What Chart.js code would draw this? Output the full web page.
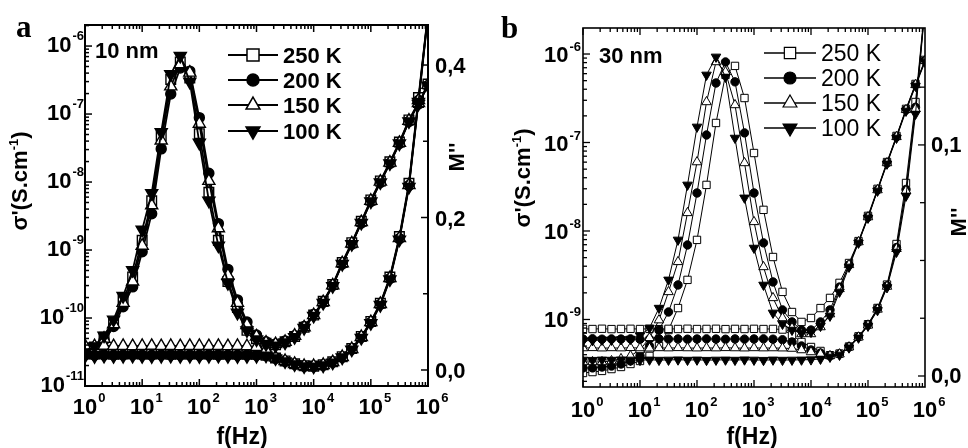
<!DOCTYPE html>
<html><head><meta charset="utf-8">
<script src="https://cdn.jsdelivr.net/npm/chart.js@4.4.0/dist/chart.umd.min.js"></script>
<style>
html,body{margin:0;padding:0;background:#fff;}
#wrap{position:relative;width:968px;height:448px;overflow:hidden;background:#fff;}
canvas{position:absolute;top:0;}
#ca{left:0;} #cb{left:484px;}
</style></head><body>
<div id="wrap"><canvas id="ca" width="484" height="448"></canvas><canvas id="cb" width="484" height="448"></canvas></div>
<script>
// ---------- data ----------
const freq = [1,1.468,2.154,3.162,4.642,6.813,10,14.68,21.54,31.62,46.42,68.13,100,146.8,215.4,316.2,464.2,681.3,1000,1468,2154,3162,4642,6813,10000,14680,21540,31620,46420,68130,100000,146800,215400,316200,464200,681300,1000000];
const temps = ['250 K','200 K','150 K','100 K'];
const xTicks = [1,10,100,1000,10000,100000,1000000];
const xTickExp = ['0','1','2','3','4','5','6'];

// panel a (10 nm): sigma' (S/cm) and M''
const aSig250 = [2.98e-11,2.95e-11,2.97e-11,2.94e-11,2.96e-11,2.98e-11,2.95e-11,2.96e-11,2.97e-11,2.94e-11,2.96e-11,2.95e-11,2.97e-11,2.96e-11,2.94e-11,2.95e-11,2.96e-11,2.93e-11,2.92e-11,2.84e-11,2.58e-11,2.34e-11,2.12e-11,1.98e-11,1.96e-11,2.05e-11,2.27e-11,2.70e-11,3.55e-11,5.35e-11,8.9e-11,1.65e-10,4.0e-10,1.58e-9,9.6e-9,1.75e-7,3.1e-6];
const aSig200 = [2.86e-11,2.84e-11,2.87e-11,2.85e-11,2.86e-11,2.88e-11,2.85e-11,2.84e-11,2.86e-11,2.87e-11,2.85e-11,2.86e-11,2.84e-11,2.86e-11,2.87e-11,2.85e-11,2.84e-11,2.85e-11,2.83e-11,2.82e-11,2.56e-11,2.31e-11,2.09e-11,1.95e-11,1.95e-11,2.02e-11,2.23e-11,2.65e-11,3.47e-11,5.2e-11,8.6e-11,1.59e-10,3.8e-10,1.47e-9,8.9e-9,1.58e-7,2.9e-6];
const aSig150 = [3.88e-11,3.86e-11,3.90e-11,3.87e-11,3.89e-11,3.86e-11,3.88e-11,3.90e-11,3.87e-11,3.88e-11,3.86e-11,3.89e-11,3.88e-11,3.87e-11,3.89e-11,3.86e-11,3.88e-11,3.84e-11,3.75e-11,3.38e-11,2.62e-11,2.33e-11,2.11e-11,1.97e-11,1.97e-11,2.04e-11,2.25e-11,2.67e-11,3.50e-11,5.26e-11,8.7e-11,1.61e-10,3.87e-10,1.50e-9,9.0e-9,1.60e-7,3.0e-6];
const aSig100 = [2.76e-11,2.74e-11,2.77e-11,2.75e-11,2.76e-11,2.78e-11,2.75e-11,2.74e-11,2.76e-11,2.77e-11,2.75e-11,2.76e-11,2.74e-11,2.76e-11,2.77e-11,2.75e-11,2.74e-11,2.75e-11,2.76e-11,2.80e-11,2.55e-11,2.30e-11,2.08e-11,1.94e-11,1.93e-11,2.00e-11,2.21e-11,2.62e-11,3.42e-11,5.1e-11,8.4e-11,1.55e-10,3.7e-10,1.42e-9,8.5e-9,1.50e-7,2.8e-6];
const aM250 = [0.022,0.030,0.043,0.062,0.092,0.122,0.170,0.222,0.307,0.381,0.404,0.383,0.310,0.233,0.170,0.116,0.082,0.052,0.041,0.035,0.033,0.037,0.044,0.056,0.072,0.090,0.112,0.141,0.167,0.195,0.223,0.248,0.273,0.299,0.328,0.351,0.375];
const aM200 = [0.020,0.027,0.039,0.057,0.083,0.109,0.155,0.205,0.290,0.362,0.396,0.392,0.331,0.258,0.192,0.132,0.092,0.063,0.046,0.037,0.034,0.038,0.045,0.057,0.073,0.089,0.111,0.139,0.165,0.193,0.221,0.246,0.271,0.297,0.326,0.349,0.373];
const aM150 = [0.021,0.029,0.041,0.060,0.088,0.116,0.163,0.216,0.301,0.372,0.401,0.390,0.323,0.248,0.186,0.124,0.088,0.059,0.044,0.036,0.034,0.037,0.045,0.056,0.072,0.089,0.111,0.140,0.166,0.194,0.222,0.247,0.272,0.298,0.327,0.350,0.374];
const aM100 = [0.023,0.031,0.045,0.066,0.097,0.131,0.184,0.232,0.312,0.388,0.412,0.378,0.298,0.222,0.163,0.114,0.075,0.052,0.040,0.034,0.032,0.036,0.043,0.055,0.071,0.088,0.110,0.139,0.165,0.193,0.221,0.246,0.271,0.297,0.326,0.349,0.373];

// panel b (30 nm)
const bSig250 = [7.84e-10,7.80e-10,7.86e-10,7.79e-10,7.82e-10,7.85e-10,7.80e-10,7.83e-10,7.78e-10,7.84e-10,7.81e-10,7.86e-10,7.80e-10,7.82e-10,7.85e-10,7.79e-10,7.83e-10,7.81e-10,7.84e-10,7.80e-10,7.82e-10,7.70e-10,6.68e-10,5.57e-10,4.89e-10,4.41e-10,3.95e-10,4.12e-10,4.95e-10,6.45e-10,8.85e-10,1.35e-9,2.48e-9,7.13e-9,3.49e-8,2.87e-7,3.6e-6];
const bSig200 = [6.02e-10,6.05e-10,5.99e-10,6.03e-10,6.01e-10,6.04e-10,5.98e-10,6.02e-10,6.05e-10,6.00e-10,6.03e-10,5.99e-10,6.02e-10,6.04e-10,6.01e-10,5.98e-10,6.03e-10,6.00e-10,6.02e-10,6.04e-10,5.99e-10,5.90e-10,5.57e-10,5.02e-10,4.52e-10,4.18e-10,3.90e-10,4.08e-10,4.90e-10,6.36e-10,8.70e-10,1.32e-9,2.40e-9,6.5e-9,2.95e-8,2.50e-7,3.5e-6];
const bSig150 = [4.76e-10,4.78e-10,4.74e-10,4.77e-10,4.75e-10,4.79e-10,4.76e-10,4.73e-10,4.77e-10,4.75e-10,4.78e-10,4.76e-10,4.74e-10,4.77e-10,4.75e-10,4.78e-10,4.76e-10,4.74e-10,4.77e-10,4.75e-10,4.76e-10,4.74e-10,4.70e-10,4.52e-10,4.29e-10,4.08e-10,3.88e-10,4.06e-10,4.87e-10,6.30e-10,8.60e-10,1.30e-9,2.36e-9,6.3e-9,2.85e-8,2.40e-7,3.45e-6];
const bSig100 = [3.49e-10,3.47e-10,3.50e-10,3.48e-10,3.51e-10,3.49e-10,3.47e-10,3.50e-10,3.48e-10,3.49e-10,3.51e-10,3.48e-10,3.50e-10,3.47e-10,3.49e-10,3.50e-10,3.48e-10,3.51e-10,3.49e-10,3.47e-10,3.50e-10,3.48e-10,3.49e-10,3.50e-10,3.52e-10,3.58e-10,3.77e-10,3.97e-10,4.80e-10,6.20e-10,8.45e-10,1.27e-9,2.30e-9,5.79e-9,2.49e-8,2.10e-7,3.3e-6];
const bM250 = [0.0013,0.0017,0.0022,0.0030,0.0039,0.0052,0.0065,0.0087,0.0130,0.0199,0.0294,0.0416,0.0589,0.0827,0.1095,0.1303,0.1342,0.1203,0.0965,0.0719,0.0515,0.0364,0.0277,0.0234,0.0251,0.0294,0.0338,0.0403,0.0489,0.0584,0.0693,0.0810,0.0926,0.1039,0.1156,0.1264,0.1368];
const bM200 = [0.0035,0.0035,0.0039,0.0043,0.0052,0.0065,0.0087,0.0130,0.0199,0.0277,0.0394,0.0567,0.0792,0.1043,0.1268,0.1359,0.1273,0.1052,0.0792,0.0576,0.0407,0.0286,0.0234,0.0199,0.0199,0.0234,0.0286,0.0385,0.0481,0.0580,0.0688,0.0805,0.0922,0.1035,0.1152,0.1260,0.1364];
const bM150 = [0.0061,0.0061,0.0061,0.0065,0.0074,0.0087,0.0113,0.0165,0.0242,0.0364,0.0494,0.0706,0.0926,0.1186,0.1359,0.1316,0.1173,0.0922,0.0667,0.0472,0.0338,0.0251,0.0208,0.0182,0.0182,0.0212,0.0268,0.0377,0.0481,0.0580,0.0688,0.0805,0.0922,0.1035,0.1152,0.1260,0.1364];
const bM100 = [0.0152,0.0154,0.0156,0.0156,0.0158,0.0160,0.0175,0.0208,0.0294,0.0416,0.0589,0.0827,0.1078,0.1303,0.1381,0.1294,0.1030,0.0771,0.0554,0.0394,0.0273,0.0225,0.0199,0.0186,0.0190,0.0216,0.0260,0.0364,0.0472,0.0576,0.0684,0.0801,0.0918,0.1030,0.1147,0.1255,0.1359];

const aLeftTicks = [1e-11,1e-10,1e-9,1e-8,1e-7,1e-6];
const aLeftExp = ['-11','-10','-9','-8','-7','-6'];
const aRightTicks = [0,0.1,0.2,0.3,0.4];
const aRightLabels = ['0,0','','0,2','','0,4'];
const bLeftTicks = [1e-9,1e-8,1e-7,1e-6];
const bLeftExp = ['-9','-8','-7','-6'];
const bRightTicks = [0,0.025,0.05,0.075,0.1,0.125];
const bRightLabels = ['0,0','','','','0,1',''];

// ---------- drawing helpers ----------
const FONT = '"Liberation Sans", Arial, Helvetica, sans-serif';
const STY = [
  {style:'rect', fill:'#fff', rot:0},
  {style:'circle', fill:'#000', rot:0},
  {style:'triangle', fill:'#fff', rot:0},
  {style:'triangle', fill:'#000', rot:180}
];

function mk(label, arr, axis, i, sizes, lw, bw){
  const s = STY[i];
  return {label, data: freq.map((f,k)=>({x:f,y:arr[k]})), yAxisID: axis, order: 4 - i,
    borderColor:'#000', borderWidth: lw, pointStyle: s.style, pointRotation: s.rot,
    pointRadius: sizes[i], pointBackgroundColor: s.fill, pointBorderColor:'#000',
    pointBorderWidth: bw, tension:0, fill:false, clip:0};
}

function line(ctx,x1,y1,x2,y2){ctx.beginPath();ctx.moveTo(x1,y1);ctx.lineTo(x2,y2);ctx.stroke();}

function drawPow(ctx, c, exp, x, yb, mode){
  ctx.textBaseline='alphabetic'; ctx.textAlign='left';
  ctx.font = `bold ${c.base}px ${FONT}`;
  const w10 = ctx.measureText('10').width;
  ctx.font = `bold ${c.exp}px ${FONT}`;
  const we = ctx.measureText(exp).width;
  const x0 = mode==='x' ? x - w10/2 : x - w10 - we - 1;
  ctx.font = `bold ${c.base}px ${FONT}`;
  ctx.fillText('10', x0, yb);
  ctx.font = `bold ${c.exp}px ${FONT}`;
  ctx.fillText(exp, x0 + w10 + 1, yb - c.raise);
}

function rotText(ctx, parts, bx, cy){
  ctx.save(); ctx.translate(bx, cy); ctx.rotate(-Math.PI/2);
  ctx.textBaseline='alphabetic'; ctx.textAlign='left';
  let tot=0; parts.forEach(p=>{ctx.font=p.f; p.w=ctx.measureText(p.t).width; tot+=p.w;});
  let x=-tot/2; parts.forEach(p=>{ctx.font=p.f; ctx.fillText(p.t, x, p.dy||0); x+=p.w;});
  ctx.restore();
}

function mkPlugin(c){
  return {id:'deco', afterDraw(chart){
    const ctx=chart.ctx, ca=chart.chartArea, xs=chart.scales.x, yl=chart.scales.y, yr=chart.scales.y2;
    ctx.save();
    ctx.strokeStyle='#000'; ctx.fillStyle='#000';
    // ticks
    ctx.lineWidth=c.tickW;
    for(let d=0; d<6; d++){ for(let m=1;m<=9;m++){
      const px = xs.getPixelForValue(Math.pow(10,d)*m);
      const L = m===1?c.major:c.minor;
      line(ctx,px,ca.bottom,px,ca.bottom-L); line(ctx,px,ca.top,px,ca.top+L);
    }}
    for(let d=-12; d<=-5; d++){ for(let m=1;m<=9;m++){
      const v=Math.pow(10,d)*m; if(v<yl.min*0.999||v>yl.max) continue;
      const py=yl.getPixelForValue(v); const L=m===1?c.major:c.minor;
      line(ctx,ca.left,py,ca.left+L,py);
    }}
    c.rightTicks.forEach((v,i)=>{const py=yr.getPixelForValue(v); line(ctx,ca.right,py,ca.right-(c.rightLabels[i]?c.major:c.minor+1),py);});
    // frame
    ctx.lineWidth=c.frameW;
    ctx.strokeRect(ca.left, ca.top, ca.right-ca.left, ca.bottom-ca.top);
    // tick labels
    xTicks.forEach((v,i)=>drawPow(ctx,c.pow,xTickExp[i],xs.getPixelForValue(v),c.xLabBase,'x'));
    c.leftTicks.forEach((v,i)=>drawPow(ctx,c.pow,c.leftExp[i],c.leftLabRight,yl.getPixelForValue(v)+c.leftLabOff,'y'));
    ctx.font=`bold ${c.pow.base}px ${FONT}`; ctx.textAlign='left'; ctx.textBaseline='alphabetic';
    c.rightTicks.forEach((v,i)=>{ if(c.rightLabels[i]) ctx.fillText(c.rightLabels[i], c.rightLabLeft, yr.getPixelForValue(v)+c.rightLabOff); });
    // axis titles
    ctx.font=`bold 23px ${FONT}`; ctx.textAlign='center';
    ctx.fillText('f(Hz)', c.xTitle[0], c.xTitle[1]);
    rotText(ctx,[{t:"\u03C3'(S.cm",f:`bold 22px ${FONT}`},{t:'-1',f:`bold 13px ${FONT}`,dy:-9},{t:')',f:`bold 22px ${FONT}`}], c.yTitle[0], c.yTitle[1]);
    rotText(ctx,[{t:"M''",f:`bold 22px ${FONT}`}], c.mTitle[0], c.mTitle[1]);
    // panel letter and sample label
    ctx.textAlign='left';
    ctx.font=`bold 31px "Liberation Serif", "Times New Roman", serif`;
    ctx.fillText(c.letter, c.letterPos[0], c.letterPos[1]);
    ctx.font=`bold 22px ${FONT}`;
    ctx.fillText(c.sample, c.samplePos[0], c.samplePos[1]);
    // legend
    const L=c.legend;
    temps.forEach((t,i)=>{
      const y=L.ys[i];
      ctx.lineWidth=L.lw; ctx.strokeStyle='#000';
      line(ctx,L.x1,y,L.x2,y);
      const s=STY[i];
      ctx.fillStyle=s.fill; ctx.strokeStyle='#000'; ctx.lineWidth=L.bw;
      Chart.helpers.drawPoint(ctx,{pointStyle:s.style,radius:L.r[i],rotation:s.rot,borderWidth:L.bw},L.xm,y);
      ctx.fillStyle='#000';
      ctx.font=`${L.weight} ${L.size}px ${FONT}`; ctx.textAlign='left'; ctx.textBaseline='alphabetic';
      ctx.fillText(t, L.xt, y+L.tOff);
    });
    ctx.restore();
  }};
}

function build(id, sig, mm, sizes, lw, bw, pad, yMin, yMax, y2Min, y2Max, deco){
  const ds=[];
  for(let i=0;i<4;i++) ds.push(mk(temps[i]+" \u03C3'", sig[i], 'y', i, sizes, lw, bw));
  for(let i=0;i<4;i++) ds.push(mk(temps[i]+" M''", mm[i], 'y2', i, sizes, lw, bw));
  return new Chart(document.getElementById(id), {
    type:'line',
    data:{datasets:ds},
    options:{responsive:false, animation:false, devicePixelRatio:1, events:[],
      layout:{padding:pad},
      plugins:{legend:{display:false}, tooltip:{enabled:false}},
      scales:{
        x:{type:'logarithmic', min:1, max:1e6, display:false},
        y:{type:'logarithmic', min:yMin, max:yMax, display:false},
        y2:{type:'linear', min:y2Min, max:y2Max, display:false}
      }},
    plugins:[mkPlugin(deco)]
  });
}

build('ca', [aSig250,aSig200,aSig150,aSig100], [aM250,aM200,aM150,aM100],
  [6.8,5,7,7], 1.8, 1.4, {left:85,right:56,top:25,bottom:62},
  1e-11, 2.04e-6, -0.021, 0.4525,
  {frameW:2, tickW:1.5, major:7, minor:4,
   pow:{base:22, exp:13, raise:12},
   xLabBase:414, leftTicks:aLeftTicks, leftExp:aLeftExp, leftLabRight:84, leftLabOff:6,
   rightTicks:aRightTicks, rightLabels:aRightLabels, rightLabLeft:435, rightLabOff:8,
   xTitle:[242,444], yTitle:[27,181], mTitle:[464,157],
   letter:'a', letterPos:[16,37], sample:'10 nm', samplePos:[95,58],
   legend:{x1:228,x2:278,xm:253,xt:283,ys:[55,80,105,131],lw:2,bw:1.5,r:[8.5,6,8,8],weight:'bold',size:22,tOff:8}});

build('cb', [bSig250,bSig200,bSig150,bSig100], [bM250,bM200,bM150,bM100],
  [5.2,4.2,5.5,5.5], 1, 1, {left:99,right:43,top:28,bottom:61},
  1.726e-10, 1.968e-6, -0.00476, 0.1506,
  {frameW:1.6, tickW:1.3, major:7, minor:4,
   pow:{base:22, exp:13, raise:11},
   xLabBase:417, leftTicks:bLeftTicks, leftExp:bLeftExp, leftLabRight:97, leftLabOff:8,
   rightTicks:bRightTicks, rightLabels:bRightLabels, rightLabLeft:447, rightLabOff:7,
   xTitle:[268,444], yTitle:[46,178], mTitle:[482,222],
   letter:'b', letterPos:[17,38], sample:'30 nm', samplePos:[115,63],
   legend:{x1:280,x2:332,xm:306,xt:337,ys:[53,78,103,128],lw:1.5,bw:1.2,r:[8,6,8,8],weight:'normal',size:23,tOff:8}});
</script>
</body></html>
